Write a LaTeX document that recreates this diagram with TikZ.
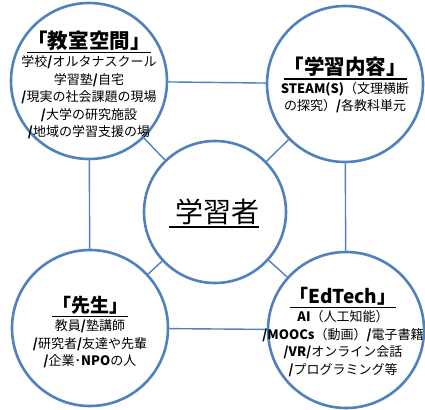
\documentclass[tikz,border=0pt]{standalone}
\usepackage{fontspec}
\newfontfamily\jp{Noto Sans CJK JP}
\definecolor{ringblue}{RGB}{79,129,189}
\newcommand{\ulx}[2][1.2pt]{\leavevmode\vtop{\hbox{#2}\kern1.8pt\hrule height #1}}
\newcommand{\ttl}[2][20]{{\fontsize{#1}{22}\selectfont\bfseries\ulx{#2}}}
\newcommand{\sla}{\textbf{/}}
\begin{document}
\begin{tikzpicture}[x=1pt,y=-1pt,
  bubble/.style={circle, draw=ringblue, line width=2.6pt, fill=white, minimum size=156pt, inner sep=0pt},
  hub/.style={bubble, minimum size=142pt},
  link/.style={draw=ringblue, line width=1.4pt},
  txt/.style={font=\jp\fontsize{13}{17.5}\selectfont, align=center, inner sep=0pt, text=black},
  hubtxt/.style={font=\jp\fontsize{28}{30}\selectfont, inner sep=0pt, text=black}
]
\useasboundingbox (0,0) rectangle (425,409);
\node[hub] (c) at (215,212) {};
\node[bubble] (tl) at (89,81) {};
\node[bubble] (tr) at (345,84) {};
\node[bubble] (bl) at (90,328) {};
\node[bubble] (br) at (346,330) {};
\draw[link] (tl) -- (tr);
\draw[link] (bl) -- (br);
\draw[link] (tl) -- (bl);
\draw[link] (tr) -- (br);
\draw[link] (c) -- (tl);
\draw[link] (c) -- (tr);
\draw[link] (c) -- (bl);
\draw[link] (c) -- (br);
\node[hubtxt] (ct) at (214,213) {\ulx[1.3pt]{\hspace{6pt}学習者}};
\node[txt] (tlt) at (89,85) {\ttl[20.5]{「教室空間」}\\[1pt]
  学校\sla オルタナスクール\\学習塾\sla 自宅\\\sla 現実の社会課題の現場\\\sla 大学の研究施設\\\sla 地域の学習支援の場};
\node[txt] (trt) at (345,85) {\ttl[20.5]{「学習内容」}\\[1pt]
  \textbf{STEAM(S)}（文理横断\\の探究）\sla 各教科単元};
\node[txt] (blt) at (90,332) {\ttl[19]{「先生」}\\[1pt]
  教員\sla 塾講師\\\sla 研究者\sla 友達や先輩\\\sla 企業･\textbf{NPO}の人};
\node[txt] (brt) at (343,332) {\ttl[19]{「EdTech」}\\[1pt]
  \textbf{AI}（人工知能）\\\sla\textbf{MOOCs}（動画）\sla 電子書籍\\\sla\textbf{VR}\sla オンライン会話\\\sla プログラミング等};
\end{tikzpicture}
\end{document}
